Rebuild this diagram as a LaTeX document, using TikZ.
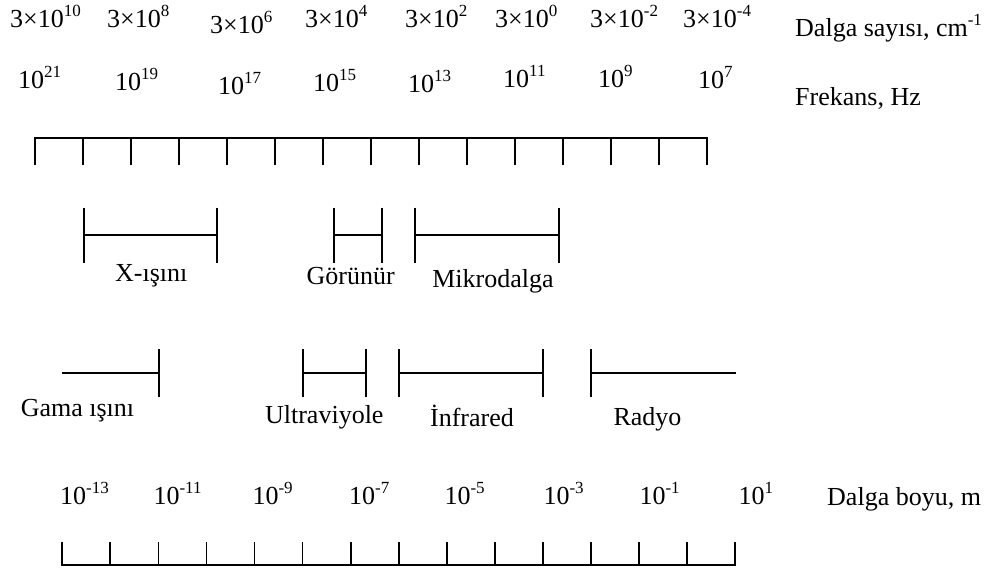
\documentclass[tikz,border=0pt]{standalone}
\usepackage{fontspec}
\setmainfont{Liberation Serif}
\newcommand{\spx}[1]{\raisebox{0.42em}{\fontsize{17}{17}\selectfont #1}}
\tikzset{
  lab/.style={inner sep=0pt, anchor=base west, font=\fontsize{26}{30}\selectfont},
  blab/.style={inner sep=0pt, anchor=base, font=\fontsize{26}{30}\selectfont},
  ln/.style={line width=1.8pt}
}
\begin{document}
\begin{tikzpicture}[x=1pt,y=-1pt]
\useasboundingbox (0,0) rectangle (994,571);
% top ruler
\draw[ln] (34.7,165) -- (34.7,138) -- (706.7,138) -- (706.7,165);
\foreach \i in {1,...,13} \draw[ln] ({34.7+48*\i},138) -- ++(0,27);
% bottom ruler
\draw[ln] (62.3,541.7) -- (62.3,565) -- (735,565) -- (735,541.7);
\foreach \i in {1,...,13} \draw[ln] ({62.3+48.05*\i},565) -- ++(0,-23.3);
% row 1 bars
\foreach \a/\b in {84.3/216.7, 333.7/382, 415.3/559.3} {
  \draw[ln] (\a,207.7) -- (\a,263.3);
  \draw[ln] (\b,207.7) -- (\b,263.3);
  \draw[ln] (\a,235.3) -- (\b,235.3);
}
% row 2 bars
\draw[ln] (62.3,373.3) -- (159,373.3);
\draw[ln] (159,349) -- (159,397.3);
\foreach \a/\b in {302.7/365.7, 398.7/542.7} {
  \draw[ln] (\a,349) -- (\a,397.3);
  \draw[ln] (\b,349) -- (\b,397.3);
  \draw[ln] (\a,373.3) -- (\b,373.3);
}
\draw[ln] (590.7,349) -- (590.7,397.3);
\draw[ln] (590.7,373.3) -- (735.7,373.3);
% wavenumber row
\node[lab] (w1) at (10,27) {3×10\spx{10}};
\node[lab] (w2) at (107,27) {3×10\spx{8}};
\node[lab] (w3) at (210,33) {3×10\spx{6}};
\node[lab] (w4) at (305,27) {3×10\spx{4}};
\node[lab] (w5) at (405,27) {3×10\spx{2}};
\node[lab] (w6) at (495,27) {3×10\spx{0}};
\node[lab] (w7) at (590,27) {3×10\spx{-2}};
\node[lab] (w8) at (683,27) {3×10\spx{-4}};
\node[lab] (wl) at (795,36) {Dalga sayısı, cm\spx{-1}};
% frequency row
\node[lab] (f1) at (18,88) {10\spx{21}};
\node[lab] (f2) at (115,90) {10\spx{19}};
\node[lab] (f3) at (218,94) {10\spx{17}};
\node[lab] (f4) at (313,91) {10\spx{15}};
\node[lab] (f5) at (408,92) {10\spx{13}};
\node[lab] (f6) at (503,87) {10\spx{11}};
\node[lab] (f7) at (598,87) {10\spx{9}};
\node[lab] (f8) at (698,88) {10\spx{7}};
\node[lab] (fl) at (795,105) {Frekans, Hz};
% wavelength row
\node[lab] (l1) at (60,504) {10\spx{-13}};
\node[lab] (l2) at (153.3,504) {10\spx{-11}};
\node[lab] (l3) at (252.3,504) {10\spx{-9}};
\node[lab] (l4) at (349,504) {10\spx{-7}};
\node[lab] (l5) at (444.3,504) {10\spx{-5}};
\node[lab] (l6) at (543.3,504) {10\spx{-3}};
\node[lab] (l7) at (639.3,504) {10\spx{-1}};
\node[lab] (l8) at (738.3,504) {10\spx{1}};
\node[lab] (ll) at (827,505) {Dalga boyu, m};
% band labels
\node[blab] (xr) at (151.3,281) {X-ışını};
\node[blab] (gr) at (350.7,284) {Görünür};
\node[blab] (mk) at (493,287) {Mikrodalga};
\node[blab] (gm) at (77.5,416) {Gama ışını};
\node[blab] (uv) at (324.3,423) {Ultraviyole};
\node[blab] (ir) at (472,426) {İnfrared};
\node[blab] (rd) at (647.5,425) {Radyo};
\end{tikzpicture}
\end{document}
